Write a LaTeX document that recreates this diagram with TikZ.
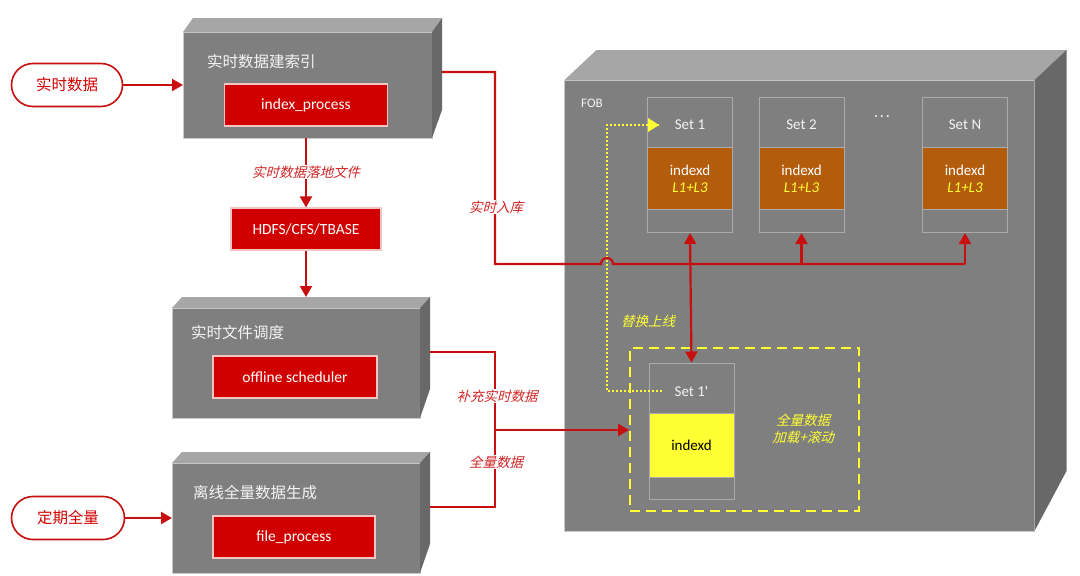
\documentclass[tikz,border=0pt]{standalone}
\usepackage{fontspec}
\setmainfont{Carlito}
\newfontfamily\cjk{Noto Sans CJK SC}
\newfontfamily\cjki{Noto Sans CJK SC}[FakeSlant=0.25]
\usetikzlibrary{arrows.meta,calc}
\definecolor{rd}{HTML}{D10000}
\definecolor{rl}{HTML}{C80F0F}
\definecolor{gf}{HTML}{7F7F7F}
\definecolor{gt}{HTML}{A6A6A6}
\definecolor{gs}{HTML}{686868}
\definecolor{br}{HTML}{B35C0C}
\definecolor{yl}{HTML}{FFFF33}
\definecolor{setb}{HTML}{ABABAB}
\definecolor{lbl}{HTML}{D02424}
\definecolor{pk}{HTML}{F2C4C4}
\definecolor{wt}{HTML}{F4F4F4}
\tikzset{
  front/.style={fill=gf, draw=gt!60!white, line width=0.6pt, inner sep=0pt, outer sep=0pt},
  ttl/.style={text=wt, font=\cjk\fontsize{15.5}{18}\selectfont, anchor=west, inner sep=0pt},
  proc/.style={fill=rd, draw=pk, line width=1.2pt, text=white, font=\fontsize{15.5}{18}\selectfont, minimum height=42pt, inner sep=0pt},
  oval/.style={draw=rl, line width=1.6pt, fill=white, text=rd, font=\cjk\fontsize{15.5}{18}\selectfont, minimum width=111pt, minimum height=43pt, rounded corners=21.5pt, inner sep=0pt},
  rline/.style={draw=rl, line width=2.2pt},
  rarr/.style={draw=rl, line width=2.2pt, -{Triangle[length=11pt,width=12pt]}},
  rarrb/.style={draw=rl, line width=2.2pt, {Triangle[length=11pt,width=12pt]}-{Triangle[length=11pt,width=12pt]}},
  rlab/.style={fill=white, text=lbl, font=\cjki\fontsize{13.5}{16}\selectfont, inner sep=1pt},
  setbox/.style={draw=setb, line width=1pt, minimum width=85pt, minimum height=135pt, inner sep=0pt},
  setmid/.style={fill=br, draw=setb, line width=0.8pt, minimum width=85pt, minimum height=62pt, inner sep=0pt, text=white, align=center, font=\fontsize{15}{19}\selectfont},
  sethd/.style={text=wt, font=\fontsize{15}{18}\selectfont, inner sep=0pt},
  ydot/.style={draw=yl, line width=2pt, dash pattern=on 2pt off 2pt},
  ylab/.style={text=yl, font=\cjki\fontsize{13.5}{16.5}\selectfont, align=center, inner sep=0pt},
}
\begin{document}
\begin{tikzpicture}[x=1pt,y=-1pt]
\useasboundingbox (0,0) rectangle (1080,576);

% ---------- FOB cube ----------
\node[front, minimum width=470pt, minimum height=451pt] (fob) at (799.5,305.5) {};
\fill[gt] (fob.north west) -- ++(32,-30) -- ++(470,0) -- (fob.north east) -- cycle;
\fill[gs] (fob.north east) -- ++(32,-30) -- ++(0,421) -- (fob.south east) -- cycle;
\node[text=wt, font=\fontsize{13}{15}\selectfont, anchor=west, inner sep=0pt] (foblab) at (581,103) {FOB};

% ---------- box 1 ----------
\node[front, minimum width=249pt, minimum height=106pt] (b1) at (307.5,85) {};
\fill[gt] (b1.north west) -- ++(10,-14) -- ++(249,0) -- (b1.north east) -- cycle;
\fill[gs] (b1.north east) -- ++(10,-14) -- ++(0,92) -- (b1.south east) -- cycle;
\node[ttl] (t1) at (207,62) {实时数据建索引};
\node[proc, minimum width=163pt] (p1) at (306,105) {index\_process};

% ---------- box 2 ----------
\node[front, minimum width=248pt, minimum height=110pt] (b2) at (296,363) {};
\fill[gt] (b2.north west) -- ++(10,-11) -- ++(248,0) -- (b2.north east) -- cycle;
\fill[gs] (b2.north east) -- ++(10,-11) -- ++(0,92) -- (b2.south east) -- cycle;
\node[ttl] (t2) at (191,333) {实时文件调度};
\node[proc, minimum width=164pt] (sched) at (295,377) {offline scheduler};

% ---------- box 3 ----------
\node[front, minimum width=248pt, minimum height=110pt] (b3) at (296,518) {};
\fill[gt] (b3.north west) -- ++(10,-11) -- ++(248,0) -- (b3.north east) -- cycle;
\fill[gs] (b3.north east) -- ++(10,-11) -- ++(0,92) -- (b3.south east) -- cycle;
\node[ttl] (t3) at (193,493) {离线全量数据生成};
\node[proc, minimum width=162pt] (fp) at (294,537) {file\_process};

% ---------- HDFS ----------
\node[proc, minimum width=150pt] (hdfs) at (306,229) {HDFS/CFS/TBASE};

% ---------- ovals ----------
\node[oval] (in1) at (67,85) {实时数据};
\node[oval, minimum width=113pt] (in2) at (68,518) {定期全量};

% ---------- sets ----------
\foreach \n/\x/\t in {set1/690/Set 1, set2/801.5/Set 2, setN/965/Set N}{
  \node[setbox] (\n) at (\x,165) {};
  \node[setmid] (\n m) at (\x,178.5) {indexd\\[-2pt]{\itshape\color{yl}L1+L3}};
  \node[sethd] (\n h) at (\x,125) {\t};
}
\node[text=wt, font=\fontsize{14}{16}\selectfont, inner sep=0pt] (dots) at (882,118) {·\,·\,·};

\node[setbox, minimum height=136pt] (set1p) at (691.5,431) {};
\node[setmid, fill=yl, minimum height=64pt, text=black] (set1pm) at (691.5,445) {indexd};
\node[sethd] (set1ph) at (691.5,391) {Set 1\textquotesingle};

% dashed box
\node[draw=yl, line width=1.6pt, dash pattern=on 10pt off 6pt, minimum width=229pt, minimum height=163pt, inner sep=0pt] (db) at (744.5,429.5) {};
\node[ylab] (dblab) at (803,429) {全量数据\\加载+滚动};
\node[ylab] (swap) at (648,321) {替换上线};

% ---------- yellow dotted path ----------
\coordinate (yd0) at (662,391);
\coordinate (yd1) at (607,391);
\coordinate (yd2) at (607,125);
\coordinate (yd3) at (659,125);
\draw[ydot] (yd0) -- (yd1) -- (yd2) -- (yd3);
\fill[yl] (yd3) -- ++(-11,-7) -- ++(0,14) -- cycle;

% ---------- red connectors ----------
\draw[rarr] (in1) -- (in1 -| b1.west);
\draw[rarr] (in2) -- (in2 -| b3.west);

\draw[rarr] (p1.south |- b1.south) -- (hdfs.north);
\node[rlab] (lab1) at (306,172) {实时数据落地文件};
\coordinate (b2top) at (306,297);
\draw[rarr] (hdfs.south) -- (b2top);

\coordinate (b1o) at (442,72);
\coordinate (c1) at (495,72);
\coordinate (c2) at (495,264);
\coordinate (h1) at (601,264);
\draw[rline] (b1o) -- (c1) -- (c2) -- (h1) arc[start angle=180, end angle=360, radius=6] -- (setN.south |- c2);
\draw[rarr] (setN.south |- c2) -- (setN.south);
\draw[rarr] (set2.south |- c2) -- (set2.south);
\draw[rarrb] (set1.south) -- (set1p.north);
\node[rlab] (lab2) at (496,207) {实时入库};

\coordinate (b2o) at (430,352);
\coordinate (d1) at (495,352);
\coordinate (d2) at (495,507);
\coordinate (b3o) at (430,507);
\coordinate (dj) at (495,430);
\draw[rline, line width=1.8pt] (b2o) -- (d1) -- (d2) -- (b3o);
\draw[rarr, line width=1.8pt] (dj) -- (dj -| db.west);
\node[rlab] (lab3) at (497,396) {补充实时数据};
\node[rlab] (lab4) at (496,462) {全量数据};
\end{tikzpicture}
\end{document}
